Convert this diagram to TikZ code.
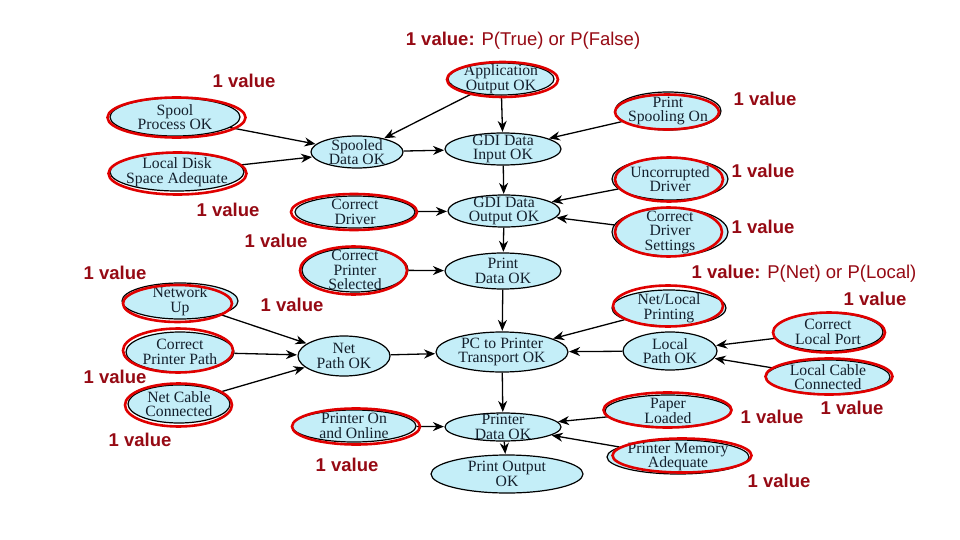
\documentclass[tikz,border=0pt]{standalone}
\usepackage{fontspec}
\setmainfont{Liberation Serif}
\newfontfamily\lblfont{Liberation Sans}
\usetikzlibrary{arrows.meta,shapes.geometric}
\definecolor{nodefill}{RGB}{196,238,248}
\definecolor{ringred}{RGB}{224,0,0}
\definecolor{lblred}{RGB}{150,10,20}
\definecolor{txtcol}{RGB}{20,32,45}
\tikzset{
  ntxt/.style={font=\fontsize{15.7}{14.5}\selectfont, text=txtcol, align=center, inner sep=0pt},
  ell/.style n args={3}{shape=ellipse, draw=black, line width=1.2pt, fill=nodefill,
     inner sep=0pt, minimum width=#1pt, minimum height=#2pt, label={[ntxt]center:#3}},
  ring/.style={draw=ringred, line width=2.6pt},
  lbl/.style={font=\lblfont\fontsize{18.5}{20}\selectfont, text=lblred, inner sep=0pt},
  arr/.style={-{Stealth[length=11pt,width=9pt,inset=3.5pt]}, line width=1.3pt, black, shorten >=0.5pt},
}
\begin{document}
\begin{tikzpicture}[x=1pt,y=-1pt]
\useasboundingbox[fill=white] (0,0) rectangle (960,540);

% nodes
\node[ell={106}{32}{Application\\Output OK}] (app) at (501,79) {};
\node[ell={130}{38}{Spool\\Process OK}] (spool) at (175,117) {};
\node[ell={134}{38}{Local Disk\\Space Adequate}] (disk) at (177,172) {};
\node[ell={92}{32}{Spooled\\Data OK}] (spooled) at (357,152) {};
\node[ell={116}{32}{GDI Data\\Input OK}] (gdiin) at (503,149) {};
\node[ell={106}{38}{Print\\Spooling On}] (pspool) at (668,111) {};
\node[ell={112}{32}{GDI Data\\Output OK}] (gdiout) at (504,211) {};
\node[ell={116}{42}{Uncorrupted\\Driver}] (uncorr) at (670,179) {};
\node[ell={116}{48}{Correct\\Driver\\Settings}] (drvset) at (670,232) {};
\node[ell={120}{32}{Correct\\Driver}] (cdrv) at (355,212) {};
\node[ell={106}{44}{Correct\\Printer\\Selected}] (cps) at (355,270) {};
\node[ell={116}{36}{Print\\Data OK}] (pdata) at (503,271) {};
\node[ell={116}{36}{Network\\Up}] (netup) at (180,301) {};
\node[ell={108}{40}{Correct\\Printer Path}] (cpp) at (180,352) {};
\node[ell={102}{38}{Net Cable\\Connected}] (ncable) at (179,404) {};
\node[ell={92}{40}{Net\\Path OK}] (netpath) at (344,356) {};
\node[ell={132}{40}{PC to Printer\\Transport OK}] (pc) at (502,352) {};
\node[ell={114}{36}{Net/Local\\Printing}] (netlocal) at (669,308) {};
\node[ell={94}{38}{Local\\Path OK}] (localpath) at (670,351) {};
\node[ell={110}{38}{Correct\\Local Port}] (clp) at (828,332) {};
\node[ell={124}{34}{Local Cable\\Connected}] (lcable) at (828,377) {};
\node[ell={126}{32}{Paper\\Loaded}] (paper) at (668,411) {};
\node[ell={142}{34}{Printer Memory\\Adequate}] (pmem) at (678,457) {};
\node[ell={124}{32}{Printer On\\and Online}] (pon) at (354,426) {};
\node[ell={116}{28}{Printer\\Data OK}] (prdata) at (503,427) {};
\node[ell={152}{38}{Print Output\\OK}] (pout) at (507,474) {};

% connectors
\draw[arr] (app) -- (spooled);
\draw[arr] (app) -- (gdiin);
\draw[arr] (spool) -- (spooled);
\draw[arr] (disk) -- (spooled);
\draw[arr] (spooled) -- (gdiin);
\draw[arr] (pspool) -- (gdiin);
\draw[arr] (gdiin) -- (gdiout);
\draw[arr] (cdrv) -- (gdiout);
\draw[arr] (uncorr) -- (gdiout);
\draw[arr] (drvset) -- (gdiout);
\draw[arr] (gdiout) -- (pdata);
\draw[arr] (cps) -- (pdata);
\draw[arr] (pdata) -- (pc);
\draw[arr] (netup) -- (netpath);
\draw[arr] (cpp) -- (netpath);
\draw[arr] (ncable) -- (netpath);
\draw[arr] (netpath) -- (pc);
\draw[arr] (netlocal) -- (pc);
\draw[arr] (localpath) -- (pc);
\draw[arr] (clp) -- (localpath);
\draw[arr] (lcable) -- (localpath);
\draw[arr] (pc) -- (prdata);
\draw[arr] (pon) -- (prdata);
\draw[arr] (paper) -- (prdata);
\draw[arr] (pmem) -- (prdata);
\draw[arr] (prdata) -- (pout);

% red rings
\draw[ring] (502.5,79.5) ellipse [x radius=55.5pt, y radius=17.5pt];
\draw[ring] (176.5,117.5) ellipse [x radius=69pt, y radius=20pt];
\draw[ring] (177.5,173.5) ellipse [x radius=69pt, y radius=21pt];
\draw[ring] (667,112) ellipse [x radius=52pt, y radius=17.5pt];
\draw[ring] (669,179.5) ellipse [x radius=54pt, y radius=22pt];
\draw[ring] (668.5,232) ellipse [x radius=53.5pt, y radius=24.5pt];
\draw[ring] (354,212) ellipse [x radius=63pt, y radius=18pt];
\draw[ring] (353.5,270.5) ellipse [x radius=53.5pt, y radius=24pt];
\draw[ring] (177.5,303.5) ellipse [x radius=54.5pt, y radius=18.5pt];
\draw[ring] (178,350.5) ellipse [x radius=55pt, y radius=22pt];
\draw[ring] (178.5,405) ellipse [x radius=53.5pt, y radius=21.5pt];
\draw[ring] (356,426.5) ellipse [x radius=64pt, y radius=18pt];
\draw[ring] (668,306) ellipse [x radius=55pt, y radius=20.5pt];
\draw[ring] (829,332.5) ellipse [x radius=56pt, y radius=20pt];
\draw[ring] (829,376.5) ellipse [x radius=63.5pt, y radius=18pt];
\draw[ring] (667.5,410) ellipse [x radius=64pt, y radius=17.5pt];
\draw[ring] (682,455.5) ellipse [x radius=69.5pt, y radius=17pt];

% labels
\node[lbl] (ltop) at (523,41) {\textbf{1 value:} P(True) or P(False)};
\node[lbl] (lnet) at (804,274) {\textbf{1 value:} P(Net) or P(Local)};
\node[lbl] (v1) at (244,81) {\textbf{1 value}};
\node[lbl] (v2) at (765,99) {\textbf{1 value}};
\node[lbl] (v3) at (228,210) {\textbf{1 value}};
\node[lbl] (v4) at (763,171) {\textbf{1 value}};
\node[lbl] (v5) at (763,227) {\textbf{1 value}};
\node[lbl] (v6) at (276,241) {\textbf{1 value}};
\node[lbl] (v7) at (875,299) {\textbf{1 value}};
\node[lbl] (v8) at (115,273) {\textbf{1 value}};
\node[lbl] (v9) at (292,305) {\textbf{1 value}};
\node[lbl] (v10) at (115,377) {\textbf{1 value}};
\node[lbl] (v11) at (140,440) {\textbf{1 value}};
\node[lbl] (v12) at (852,408) {\textbf{1 value}};
\node[lbl] (v13) at (772,417) {\textbf{1 value}};
\node[lbl] (v14) at (347,465) {\textbf{1 value}};
\node[lbl] (v15) at (779,481) {\textbf{1 value}};
\end{tikzpicture}
\end{document}
